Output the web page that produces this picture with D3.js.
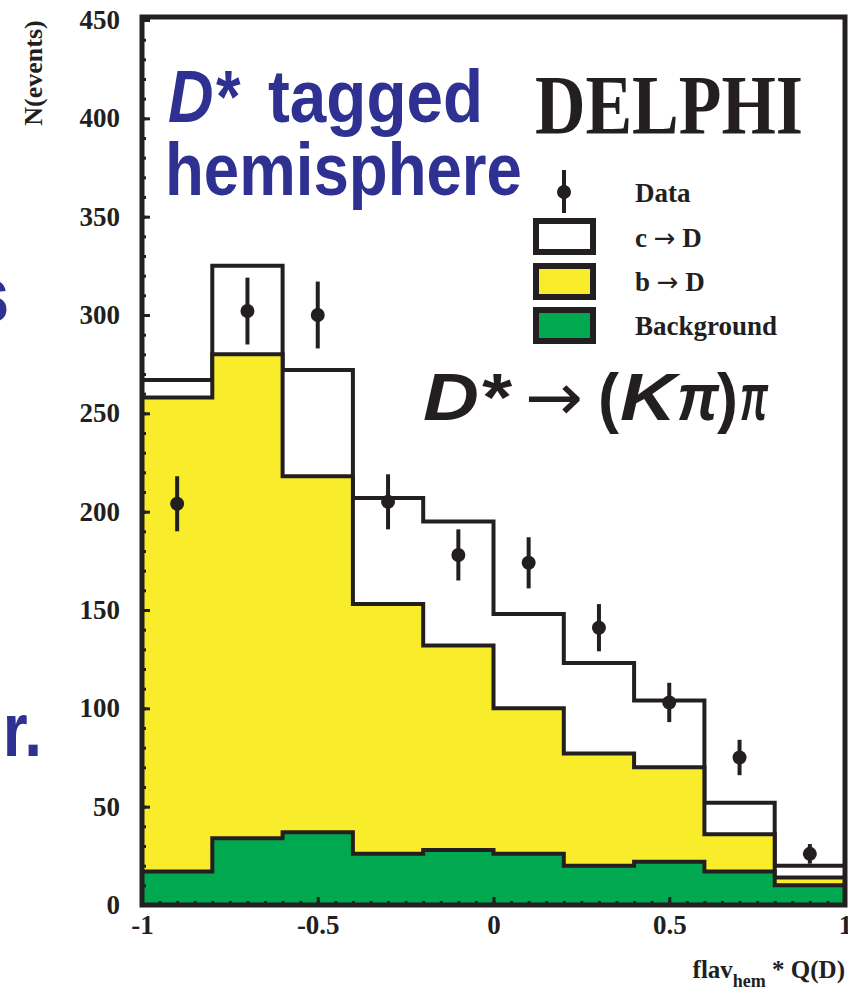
<!DOCTYPE html>
<html>
<head>
<meta charset="utf-8">
<style>
  body { margin: 0; background: #fff; }
  svg { display: block; }
  .tick text { font-family: "Liberation Serif", serif; font-weight: bold; font-size: 27px; fill: #231f20; }
  .tick line { stroke: #231f20; stroke-width: 3px; }
  .domain { display: none; }
</style>
</head>
<body>
<script src="https://d3js.org/d3.v7.min.js"></script>
<script>
// bin lower edges (width 0.2)
const binLow = [-1, -0.8, -0.6, -0.4, -0.2, 0, 0.2, 0.4, 0.6, 0.8];
const binWidth = 0.2;
// stacked MC components
const background = [17, 34, 37, 26, 28, 26, 20, 22, 17, 10];
const bToD = [241, 246, 181, 127, 104, 74, 57, 48, 19, 4];
const cToD = [9, 45, 54, 54, 63, 48, 46, 34, 16, 6];
// data points
const dataVal = [204, 302, 300, 205, 178, 174, 141, 103, 75, 26];
const dataErr = [14, 17, 17, 14, 13, 13, 12, 10, 9, 5];
const xTicks = [-1, -0.5, 0, 0.5, 1];
const yTicks = [0, 50, 100, 150, 200, 250, 300, 350, 400, 450];

const W = 848, H = 994;
const ink = '#231f20', blue = '#2e3192';
const yellow = '#f8ec2b', green = '#00a94f';

const svg = d3.select('body').append('svg').attr('width', W).attr('height', H);

const x = d3.scaleLinear().domain([-1, 1]).range([142, 845]);
const y = d3.scaleLinear().domain([0, 450]).range([905, 20]);

// cumulative tops
const bgTop = background;
const bTop = background.map((v, i) => v + bToD[i]);
const cTop = bTop.map((v, i) => v + cToD[i]);

function steps(vals) {
  const pts = [];
  binLow.forEach((lo, i) => { pts.push([lo, vals[i]]); pts.push([lo + binWidth, vals[i]]); });
  return pts;
}
const area = d3.area().x(d => x(d[0])).y0(y(0)).y1(d => y(d[1]));
const line = d3.line().x(d => x(d[0])).y(d => y(d[1]));

[[cTop, '#fff'], [bTop, yellow], [bgTop, green]].forEach(([vals, col]) => {
  const pts = steps(vals);
  svg.append('path').attr('d', area(pts)).attr('fill', col);
  svg.append('path').attr('d', line(pts)).attr('fill', 'none')
    .attr('stroke', ink).attr('stroke-width', 4).attr('stroke-linejoin', 'miter');
});

// data points with errors
const pts = svg.append('g');
binLow.forEach((lo, i) => {
  const cx = x(lo + binWidth / 2);
  pts.append('line').attr('x1', cx).attr('x2', cx)
    .attr('y1', y(dataVal[i] - dataErr[i])).attr('y2', y(dataVal[i] + dataErr[i]))
    .attr('stroke', ink).attr('stroke-width', 4);
  pts.append('circle').attr('cx', cx).attr('cy', y(dataVal[i])).attr('r', 7).attr('fill', ink);
});

// axes: ticks pointing inward
svg.append('g').attr('transform', `translate(${x(-1)},0)`)
  .call(d3.axisLeft(y).tickValues(d3.range(0, 451, 10)).tickSize(-4).tickFormat(''));
svg.append('g').attr('transform', `translate(${x(-1)},0)`)
  .call(d3.axisLeft(y).tickValues(yTicks).tickSize(-8).tickPadding(22).tickFormat(d => String(d)));
svg.append('g').attr('transform', `translate(0,${y(0)})`)
  .call(d3.axisBottom(x).tickValues(d3.range(-1, 1.001, 0.05)).tickSize(-4).tickFormat(''));
svg.append('g').attr('transform', `translate(0,${y(0)})`)
  .call(d3.axisBottom(x).tickValues(xTicks).tickSize(-8).tickPadding(10).tickFormat(d => String(d)));

// frame
svg.append('rect').attr('x', x(-1)).attr('y', 17).attr('width', x(1) - x(-1)).attr('height', y(0) - 17)
  .attr('fill', 'none').attr('stroke', ink).attr('stroke-width', 5);

// axis titles
svg.append('text').attr('transform', 'translate(42,73) rotate(-90)')
  .attr('text-anchor', 'middle').attr('font-family', 'Liberation Serif').attr('font-weight', 'bold')
  .attr('font-size', 26).attr('fill', ink).text('N(events)');
const xl = svg.append('text').attr('x', 845).attr('y', 978).attr('text-anchor', 'end')
  .attr('font-family', 'Liberation Serif').attr('font-weight', 'bold').attr('font-size', 25).attr('fill', ink);
xl.append('tspan').text('flav');
xl.append('tspan').attr('font-size', 18).attr('dy', 9).text('hem');
xl.append('tspan').attr('dy', -9).text(' * Q(D)');

// stretched text helper
function stext(tx, ty, str, opts) {
  const t = svg.append('text').attr('transform', `translate(${tx},${ty}) scale(1,1.2)`)
    .attr('font-family', opts.family || 'Liberation Sans').attr('font-weight', opts.weight || 'bold')
    .attr('font-style', opts.style || 'normal').attr('font-size', opts.size).attr('fill', opts.fill || ink)
    .attr('text-anchor', opts.anchor || 'start').text(str);
  if (opts.len) t.attr('textLength', opts.len).attr('lengthAdjust', 'spacingAndGlyphs');
  return t;
}

stext(168, 122, 'D*', { size: 62, style: 'italic', fill: blue, len: 70 });
stext(268, 122, 'tagged', { size: 62, fill: blue, len: 215 });
stext(165, 195, 'hemisphere', { size: 62, fill: blue, len: 357 });
stext(535, 134, 'DELPHI', { size: 70, family: 'Liberation Serif', len: 268 });

stext(423, 420, 'D*', { size: 55, style: 'italic', len: 86 });
stext(525, 420, '\u2192', { size: 55, weight: 'normal', family: 'DejaVu Sans', len: 58 });
stext(598, 420, '(', { size: 55, len: 21 });
stext(620, 420, 'K', { size: 55, style: 'italic', len: 56 });
stext(677, 420, '\u03c0', { size: 55, style: 'italic', len: 42 });
stext(717, 420, ')', { size: 55, len: 21 });
stext(740, 420, '\u03c0', { size: 55, style: 'italic', len: 28 });

// cut-off slide text at the left edge
stext(9, 321, 's', { size: 64, fill: blue, anchor: 'end' });
stext(42, 756, 'r.', { size: 64, fill: blue, anchor: 'end' });

// legend
const leg = svg.append('g');
leg.append('line').attr('x1', 564).attr('x2', 564).attr('y1', 170).attr('y2', 213)
  .attr('stroke', ink).attr('stroke-width', 4);
leg.append('circle').attr('cx', 564).attr('cy', 192).attr('r', 7).attr('fill', ink);
const legItems = [
  { label: ['Data'], y: 202, fill: null },
  { label: ['c ', '\u2192', ' D'], y: 247, fill: '#fff', by: 218 },
  { label: ['b ', '\u2192', ' D'], y: 291, fill: yellow, by: 263 },
  { label: ['Background'], y: 335, fill: green, by: 307 }
];
legItems.forEach(d => {
  if (d.fill) {
    leg.append('rect').attr('x', 536).attr('y', d.by + 3).attr('width', 57).attr('height', 31)
      .attr('fill', d.fill).attr('stroke', ink).attr('stroke-width', 6);
  }
  const t = leg.append('text').attr('x', 635).attr('y', d.y).attr('font-family', 'Liberation Serif')
    .attr('font-weight', 'bold').attr('font-size', 27).attr('fill', ink);
  d.label.forEach((s, i) => {
    const sp = t.append('tspan').text(s);
    if (s === '\u2192') sp.attr('font-family', 'DejaVu Sans').attr('font-weight', 'normal').attr('font-size', 26);
  });
});
</script>
</body>
</html>
